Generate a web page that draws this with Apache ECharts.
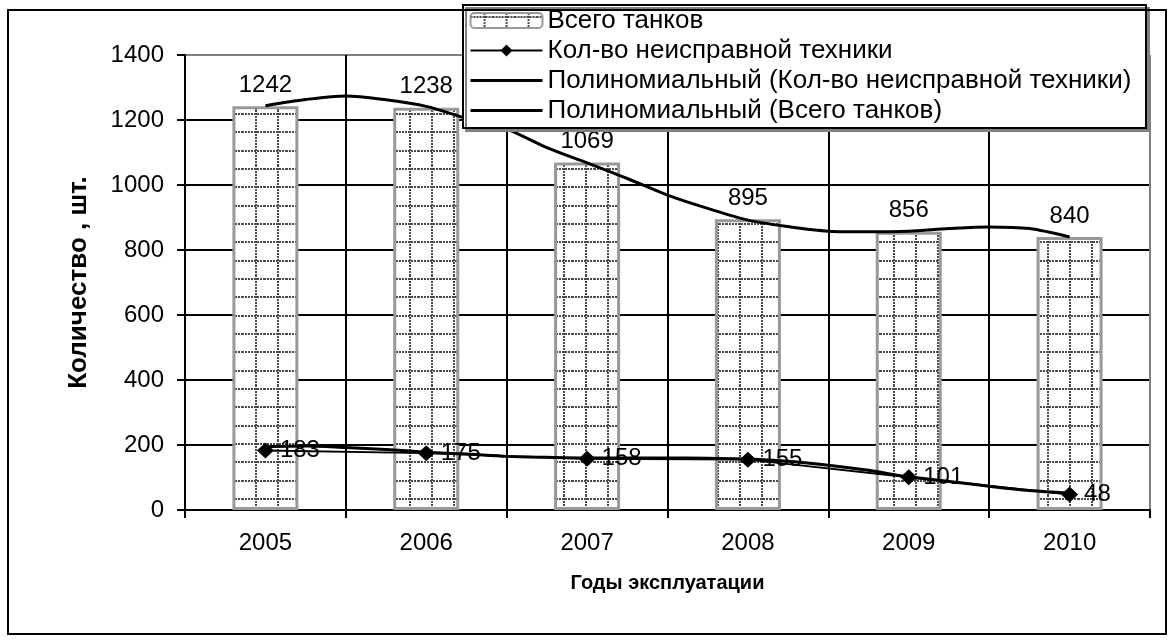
<!DOCTYPE html>
<html><head><meta charset="utf-8">
<script src="https://cdn.jsdelivr.net/npm/echarts@6/dist/echarts.min.js"></script>
<style>html,body{margin:0;padding:0;background:#fff}#c{width:1174px;height:640px}</style>
</head><body><div id="c"></div>
<script>
// ---- data ----
const years = ['2005', '2006', '2007', '2008', '2009', '2010'];
const totalTanks = [1242, 1238, 1069, 895, 856, 840];
const faultyTech = [183, 175, 158, 155, 101, 48];
// polynomial trend lines at quarter-category steps
const trendPos = [0, 0.25, 0.5, 0.75, 1, 1.25, 1.5, 1.75, 2, 2.25, 2.5, 2.75, 3, 3.25, 3.5, 3.75, 4, 4.25, 4.5, 4.75, 5];
const trendTotal = [1244, 1263, 1274, 1262, 1242, 1205, 1172, 1115, 1068, 1020, 969, 928, 892, 872, 858, 856, 858, 866, 871, 866, 840];
const trendFaulty = [195, 197, 192, 186, 178, 172, 165, 162, 160, 160, 160, 159, 157, 150, 138, 122, 102, 88, 73, 60, 52];
const yTicks = {min: 0, max: 1400, interval: 200};
const seriesNames = ['Всего танков', 'Кол-во неисправной техники',
  'Полиномиальный (Кол-во неисправной техники)', 'Полиномиальный (Всего танков)'];
const axisNames = {x: 'Годы эксплуатации', y: 'Количество , шт.'};

const FONT = '"Liberation Sans", Arial, sans-serif';

function makePattern() {
  const c = document.createElement('canvas');
  c.width = 22; c.height = 55;
  const g = c.getContext('2d');
  g.fillStyle = '#fff'; g.fillRect(0, 0, 22, 55);
  g.fillStyle = '#4a4a4a';
  [3, 21, 40].forEach(y => { for (let x = 0; x < 22; x += 3) g.fillRect(x, y, 2, 2); });
  for (let y = 0; y < 55; y += 3) g.fillRect(13, y, 2, 2);
  return c;
}
const pattern = {image: makePattern(), repeat: 'repeat'};

const chart = echarts.init(document.getElementById('c'), null, {renderer: 'canvas'});
const gridColorsY = ['#000', '#000', '#000', '#000', '#000', '#000', '#000', '#808080'];
const gridColorsX = ['#000', '#000', '#000', '#000', '#000', '#000', '#808080'];
const hiddenSymbol = {color: 'rgba(0,0,0,0)', borderWidth: 0, borderColor: 'rgba(0,0,0,0)'};

chart.setOption({
  animation: false,
  backgroundColor: '#fff',
  textStyle: {fontFamily: FONT, color: '#000'},
  grid: {left: 185, right: 24, top: 55, bottom: 130, containLabel: false},
  xAxis: [{
    type: 'category', data: years, boundaryGap: true,
    name: axisNames.x, nameLocation: 'middle', nameGap: 63,
    nameTextStyle: {fontFamily: FONT, fontSize: 20, fontWeight: 'bold', color: '#000'},
    axisLine: {show: true, onZero: false, lineStyle: {color: '#000', width: 2}},
    axisTick: {show: true, length: 8, lineStyle: {color: '#000', width: 2}},
    axisLabel: {fontFamily: FONT, fontSize: 24, color: '#000', margin: 21},
    splitLine: {show: true, lineStyle: {color: gridColorsX, width: 2}}
  }, {
    type: 'value', min: -0.5, max: 5.5, show: false,
    axisLine: {show: false, onZero: false}, axisTick: {show: false}, axisLabel: {show: false},
    splitLine: {show: false}
  }],
  yAxis: {
    type: 'value', min: yTicks.min, max: yTicks.max, interval: yTicks.interval,
    name: axisNames.y, nameLocation: 'middle', nameGap: 93, nameRotate: 90,
    nameTextStyle: {fontFamily: FONT, fontSize: 26, fontWeight: 'bold', color: '#000'},
    axisLine: {show: true, onZero: false, lineStyle: {color: '#000', width: 2}},
    axisTick: {show: true, length: 8, lineStyle: {color: '#000', width: 2}},
    axisLabel: {fontFamily: FONT, fontSize: 24, color: '#000', margin: 21,
      formatter: v => String(v)},
    splitLine: {show: true, lineStyle: {color: gridColorsY, width: 2}}
  },
  legend: {
    orient: 'vertical', left: 469, top: 7,
    itemWidth: 72, itemHeight: 15, itemGap: 3,
    padding: [0, 0, 0, 0],
    textStyle: {fontFamily: FONT, fontSize: 26, color: '#000', lineHeight: 27},
    data: [
      {name: seriesNames[0]},
      {name: seriesNames[1], lineStyle: {width: 2}},
      {name: seriesNames[2], itemStyle: hiddenSymbol, lineStyle: {width: 3}},
      {name: seriesNames[3], itemStyle: hiddenSymbol, lineStyle: {width: 3}}
    ],
    z: 10
  },
  graphic: [
    {type: 'rect', z: 100, silent: true,
      shape: {x: 8, y: 10, width: 1158, height: 624},
      style: {fill: 'none', stroke: '#000', lineWidth: 2}},
    {type: 'rect', z: 5, silent: true,
      shape: {x: 463, y: 5, width: 683, height: 123},
      style: {fill: '#fff', stroke: '#000', lineWidth: 2,
        shadowColor: '#808080', shadowOffsetX: 3, shadowOffsetY: 3, shadowBlur: 0}}
  ],
  series: [
    {
      name: seriesNames[0], type: 'bar', data: totalTanks, barWidth: 66,
      itemStyle: {color: pattern, borderColor: '#999', borderWidth: 3},
      label: {show: true, position: 'top', distance: 9, fontFamily: FONT, fontSize: 24, color: '#000'},
      z: 2
    },
    {
      name: seriesNames[1], type: 'line', data: faultyTech,
      symbol: 'diamond', symbolSize: [17, 16], showAllSymbol: true,
      itemStyle: {color: '#000'}, lineStyle: {color: '#000', width: 2},
      label: {show: true, position: 'right', distance: 6, fontFamily: FONT, fontSize: 24, color: '#000'},
      z: 4
    },
    {
      name: seriesNames[2], type: 'line', xAxisIndex: 1,
      data: trendPos.map((p, i) => [p, trendFaulty[i]]),
      symbol: 'none', smooth: 0.3,
      itemStyle: {color: '#000'}, lineStyle: {color: '#000', width: 3},
      z: 3
    },
    {
      name: seriesNames[3], type: 'line', xAxisIndex: 1,
      data: trendPos.map((p, i) => [p, trendTotal[i]]),
      symbol: 'none', smooth: 0.3,
      itemStyle: {color: '#000'}, lineStyle: {color: '#000', width: 3},
      z: 3
    }
  ]
});
</script>
</body></html>
